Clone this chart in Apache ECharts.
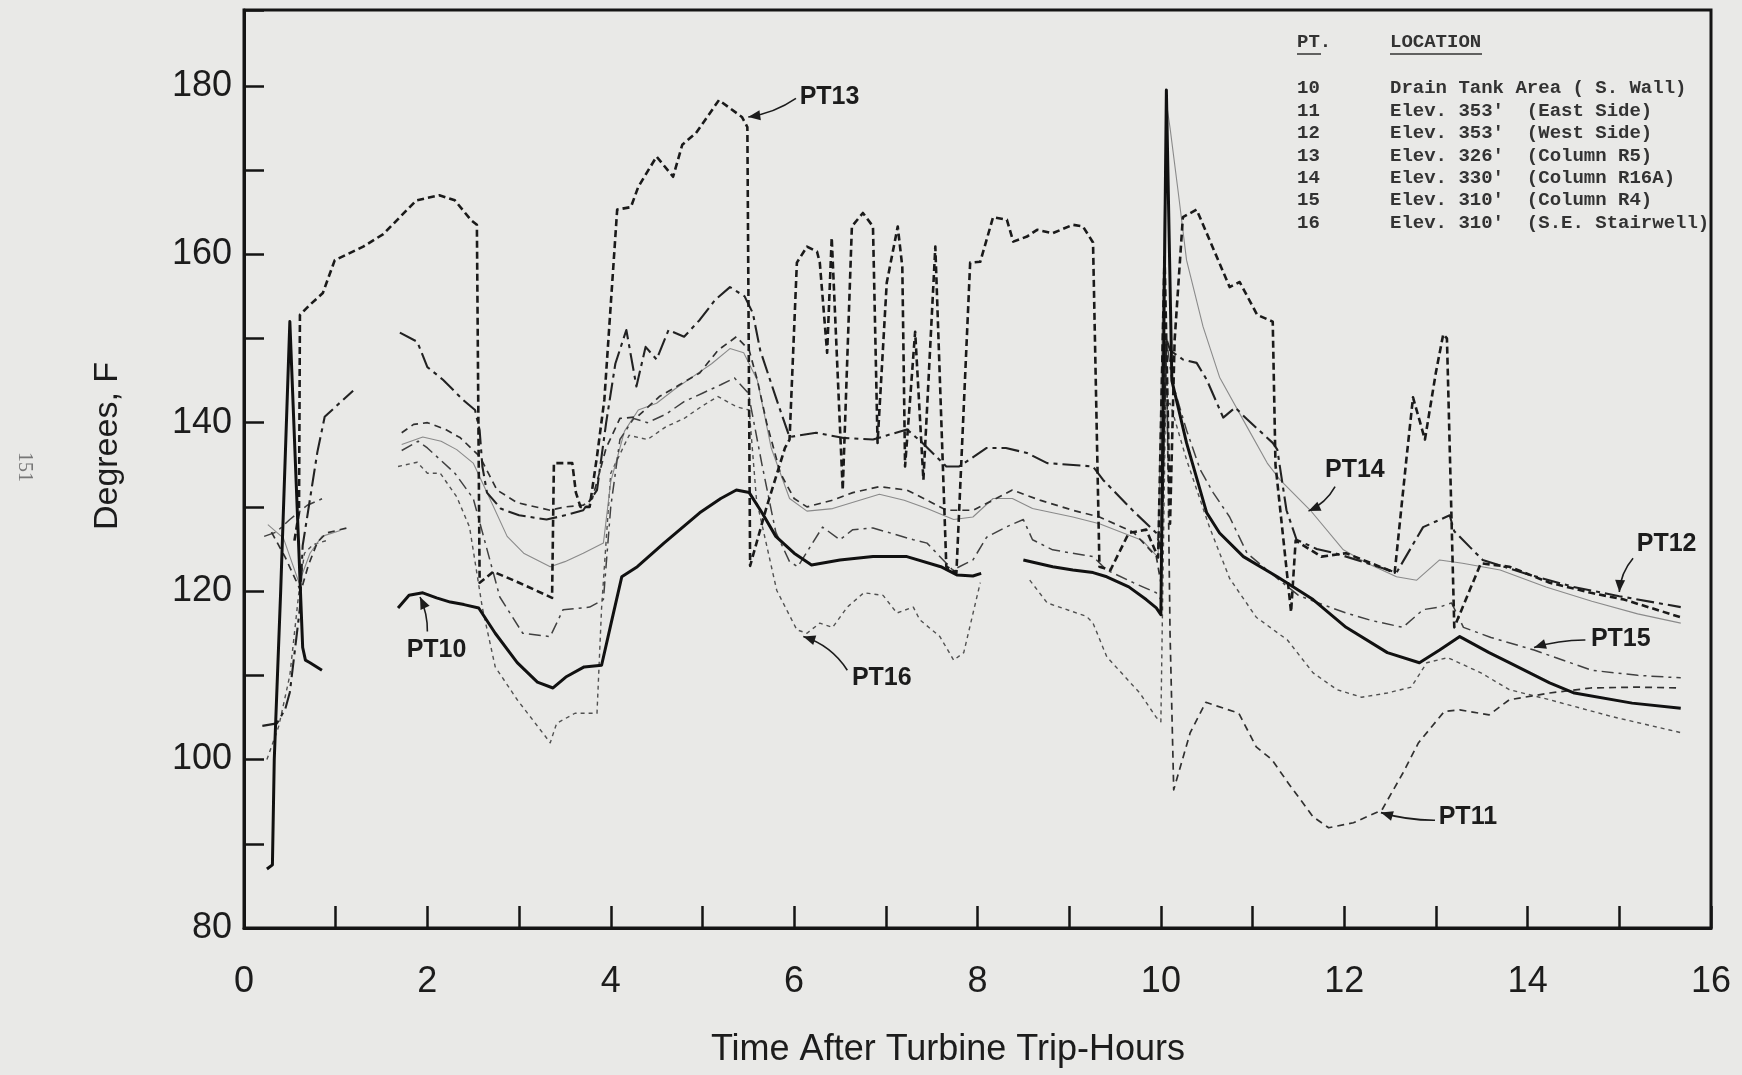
<!DOCTYPE html>
<html>
<head>
<meta charset="utf-8">
<title>Temperatures after turbine trip</title>
<script src="https://cdn.jsdelivr.net/npm/echarts@6.0.0/dist/echarts.min.js"></script>
<style>
  html, body { margin: 0; padding: 0; background: #e9e9e7; }
  #chart { width: 1742px; height: 1075px; }
</style>
</head>
<body>
<div id="chart"></div>
<script>
// readings [hours, degF]; '-' breaks the trace
const pt10 = [
  [0.25,87],[0.31,87.5],[0.33,100],[0.4,120],[0.5,152],[0.64,113.3],[0.67,111.8],[0.72,111.5],[0.85,110.6],
  [1.2,'-'],
  [1.68,118],[1.8,119.5],[1.95,119.8],[2.1,119.2],[2.25,118.7],[2.4,118.4],[2.56,118],[2.74,115],[2.98,111.5],[3.2,109.2],[3.37,108.5],[3.51,109.8],[3.71,111],[3.9,111.2],[4.0,116],[4.12,121.7],[4.29,122.9],[4.58,125.7],[4.97,129.3],[5.2,131],[5.37,132],[5.51,131.7],[5.65,129.3],[5.8,126.5],[6.0,124.5],[6.19,123.1],[6.5,123.7],[6.86,124.1],[7.23,124.1],[7.6,122.9],[7.78,121.9],[7.95,121.8],[8.04,122.1],
  [8.25,'-'],
  [8.5,123.7],[8.82,122.9],[9.04,122.5],[9.26,122.2],[9.41,121.7],[9.65,120.5],[9.84,119],[9.95,118],[10.0,117.2],[10.06,179.5],[10.12,145],[10.28,137.6],[10.5,129.3],[10.64,126.9],[10.9,124.1],[11.27,121.7],[11.66,119],[12.02,115.7],[12.47,112.7],[12.82,111.5],[13.04,113],[13.26,114.6],[13.58,112.7],[13.8,111.5],[14.24,109.1],[14.51,107.9],[15.14,106.7],[15.67,106.1]
];
const pt11 = [
  [0.3,127],[0.45,124],[0.62,120],[0.7,123],[0.8,125.8],[0.9,126.9],[1.16,127.6],
  [1.4,'-'],
  [1.72,138.8],[1.85,139.8],[2.0,140],[2.2,139.2],[2.36,138.2],[2.57,136],[2.76,132],[2.98,130.5],[3.34,129.6],[3.5,130],[3.7,130.2],[3.8,131],[3.95,137],[4.1,140.5],[4.29,140.7],[4.53,143.1],[4.75,144.5],[4.97,145.9],[5.17,148.6],[5.37,150.2],[5.51,148.6],[5.6,145],[5.7,140],[5.85,134],[6.0,131],[6.14,130],[6.42,130.8],[6.64,131.7],[6.93,132.4],[7.23,132],[7.45,130.8],[7.66,129.6],[7.95,129.6],[8.17,130.8],[8.38,132],[8.68,130.8],[9.04,129.6],[9.33,128.8],[9.7,127],[9.95,124.1],[10.0,121],[10.06,150],[10.1,115],[10.14,96.4],[10.32,103.2],[10.49,106.8],[10.85,105.5],[11.04,101.5],[11.21,100],[11.39,97.2],[11.66,93.2],[11.83,91.9],[12.1,92.5],[12.41,94],[12.64,98.4],[12.81,102],[13.09,105.7],[13.26,105.9],[13.58,105.3],[13.8,107.1],[14.24,107.9],[14.69,108.5],[15.2,108.6],[15.67,108.5]
];
const pt12 = [
  [0.26,127.9],[0.43,126.3],[0.6,121],[0.72,124.5],[0.85,126.5],[1.05,127.2],
  [1.4,'-'],
  [1.72,137.4],[1.95,138.3],[2.15,137.8],[2.32,136.8],[2.5,135.2],[2.65,131.7],[2.87,126.5],[3.05,124.5],[3.34,122.9],[3.5,123.5],[3.7,124.5],[3.92,125.7],[4.0,133],[4.15,139],[4.3,141.5],[4.5,142.3],[4.7,144],[4.9,145.5],[5.1,147],[5.3,148.8],[5.45,148.3],[5.6,145],[5.75,137],[5.95,131],[6.14,129.5],[6.42,129.8],[6.93,131.5],[7.2,130.8],[7.45,129.8],[7.74,128.5],[7.95,128.8],[8.17,131],[8.38,131],[8.6,129.8],[9.04,128.8],[9.33,128],[9.8,126],[9.97,124],[10.06,178],[10.1,175],[10.19,167.3],[10.28,159.3],[10.46,151.4],[10.64,145.4],[10.94,139.5],[11.16,135.2],[11.3,133.2],[11.63,129.6],[11.99,124.9],[12.25,123.3],[12.57,121.7],[12.79,121.3],[13.04,123.7],[13.29,123.3],[13.7,122.5],[14.2,120.5],[14.7,118.8],[15.2,117.3],[15.67,116.2]
];
const pt13 = [
  [0.55,126],[0.6,129.3],[0.61,152.8],[0.72,154],[0.86,155.4],[0.99,159.3],[1.3,160.9],[1.52,162.4],[1.88,166.4],[2.13,167],[2.3,166.4],[2.48,164],[2.54,163.5],[2.57,121],[2.72,122.3],[3.0,121],[3.3,119.5],[3.36,119.2],[3.38,135.2],[3.58,135.2],[3.62,131.7],[3.67,130],[3.77,130],[3.85,136],[3.93,142.7],[4.07,165.3],[4.22,165.6],[4.3,168],[4.5,171.6],[4.68,169.2],[4.78,173],[4.93,174.4],[5.18,178.3],[5.43,176.3],[5.49,175.1],[5.52,123],[5.7,130],[5.9,137],[5.95,138],[6.03,159],[6.14,160.9],[6.25,160.3],[6.28,159],[6.36,148.3],[6.41,162],[6.53,132],[6.63,163.3],[6.75,164.9],[6.86,163.3],[6.91,137.6],[7.01,156.6],[7.13,163.3],[7.18,158.5],[7.21,134.8],[7.32,150.8],[7.41,133.2],[7.54,160.9],[7.66,122.9],[7.77,122.2],[7.92,159],[8.03,159.1],[8.17,164.4],[8.32,164.1],[8.39,161.5],[8.54,162.1],[8.65,162.9],[8.82,162.5],[9.04,163.5],[9.15,163.3],[9.26,161.4],[9.33,122.9],[9.45,122.5],[9.65,126.9],[9.84,127.3],[9.97,124],[10.04,160],[10.1,128],[10.15,149.8],[10.24,164.4],[10.39,165.3],[10.75,156.1],[10.86,156.7],[11.05,152.8],[11.22,152],[11.25,135],[11.42,117.5],[11.47,126],[11.75,124.1],[12.02,124.5],[12.55,122.2],[12.68,135.9],[12.75,143],[12.88,138],[13.0,146],[13.08,150.5],[13.12,150],[13.2,115.7],[13.49,123.3],[13.8,122.9],[14.24,121],[14.69,119.8],[15.05,119],[15.67,116.9]
];
const pt14 = [
  [0.2,104],[0.36,104.3],[0.45,106],[0.5,108],[0.61,118],[0.64,125.4],[0.8,136.5],[0.88,140.7],[1.19,143.8],
  [1.4,'-'],
  [1.7,150.7],[1.89,149.6],[2.0,146.6],[2.17,145.1],[2.39,142.7],[2.52,141.5],[2.57,139.1],[2.6,134.8],[2.65,131.7],[2.8,129.8],[3.0,129],[3.3,128.5],[3.5,129],[3.7,129.6],[3.85,132],[3.95,140],[4.05,147],[4.17,151],[4.28,144.3],[4.38,149],[4.5,147.5],[4.63,151],[4.8,150.2],[4.97,152.2],[5.14,154.6],[5.3,156.1],[5.46,155],[5.55,153],[5.63,148.6],[5.81,142.7],[5.95,138.3],[6.24,138.8],[6.53,138.2],[6.86,138],[7.23,139.2],[7.4,137.6],[7.66,134.8],[7.8,134.8],[8.1,137],[8.31,137],[8.54,136.4],[8.76,135.2],[9.26,134.8],[9.37,133.2],[9.7,129.5],[9.95,126.9],[10.0,125],[10.06,150],[10.1,148.6],[10.24,147.5],[10.39,147.1],[10.5,145.1],[10.68,140.6],[10.81,141.8],[10.94,140.4],[11.22,137.6],[11.27,136.8],[11.37,129.6],[11.48,126.1],[11.7,125],[11.9,124.5],[12.2,123.5],[12.57,122.2],[12.86,127.6],[13.15,129],[13.2,127.1],[13.51,123.7],[14.0,122],[14.5,120.5],[15.0,119.4],[15.67,118.1]
];
const pt15 = [
  [0.22,126.5],[0.35,127],[0.5,128.5],[0.69,130.2],[0.9,131.2],
  [1.4,'-'],
  [1.72,136.7],[1.9,137.8],[2.0,137],[2.3,134],[2.5,131],[2.6,127],[2.79,119.3],[3.04,115],[3.34,114.6],[3.48,117.8],[3.77,118.1],[3.92,119],[4.0,130],[4.1,138],[4.25,140.5],[4.4,140],[4.6,141],[4.8,142.5],[5.0,143.5],[5.2,144.5],[5.35,145.3],[5.5,143.5],[5.65,135],[5.8,127],[5.95,123.5],[6.04,122.9],[6.31,127.6],[6.5,126.1],[6.64,127.3],[6.86,127.5],[7.3,126.1],[7.45,125.7],[7.73,122.5],[7.95,123.7],[8.1,126.4],[8.31,127.6],[8.5,128.5],[8.6,126.1],[8.82,124.9],[9.04,124.5],[9.26,124.1],[9.41,122.5],[9.7,121],[9.95,119.8],[10.0,119],[10.06,150],[10.12,145],[10.28,139.1],[10.43,134.4],[10.57,131.7],[10.75,128.8],[10.94,124.5],[11.27,121.5],[11.5,119.5],[11.74,118.5],[12.02,117.4],[12.3,116.5],[12.64,115.7],[12.86,117.8],[13.04,118.1],[13.17,118.6],[13.3,115.7],[13.6,114.5],[14.07,113],[14.7,110.6],[15.2,110],[15.67,109.7]
];
const pt16 = [
  [0.25,100],[0.38,104],[0.5,110],[0.6,120],[0.66,124.5],[0.75,125.5],[0.9,126],
  [1.3,'-'],
  [1.68,134.8],[1.89,135.3],[2.0,134],[2.14,134],[2.32,131.2],[2.46,127.6],[2.6,118],[2.74,111],[2.98,107.1],[3.34,102],[3.41,104.3],[3.61,105.5],[3.85,105.5],[3.9,118],[4.0,134],[4.2,138.5],[4.4,138],[4.6,139.5],[4.8,140.5],[5.0,142],[5.17,143.1],[5.37,141.9],[5.51,141.5],[5.59,130.8],[5.81,120.1],[6.03,115.4],[6.14,115],[6.28,116.2],[6.42,115.7],[6.58,118.1],[6.76,119.8],[6.97,119.5],[7.12,117.4],[7.3,118.1],[7.37,116.6],[7.59,114.6],[7.74,111.8],[7.85,112.7],[8.03,121],
  [8.3,'-'],
  [8.57,121.3],[8.76,118.6],[9.19,117],[9.26,116.2],[9.41,112.2],[9.77,107.9],[9.95,105],[10.0,104.5],[10.05,142],[10.1,142.3],[10.28,135.6],[10.53,127.6],[10.75,121.5],[11.04,116.9],[11.38,114.2],[11.66,110.3],[11.92,108.3],[12.19,107.4],[12.47,107.9],[12.73,108.6],[12.9,111.5],[13.13,112.1],[13.49,110.3],[13.8,108.3],[14.24,107.1],[14.92,105.1],[15.67,103.2]
];

const ptNumbers = ['10', '11', '12', '13', '14', '15', '16'];
const locations = [
  'Drain Tank Area ( S. Wall)',
  "Elev. 353'  (East Side)",
  "Elev. 353'  (West Side)",
  "Elev. 326'  (Column R5)",
  "Elev. 330'  (Column R16A)",
  "Elev. 310'  (Column R4)",
  "Elev. 310'  (S.E. Stairwell)"
];

// callout labels: text anchor, arrow start, arrow tip (data coords)
const notes = [
  { text: 'PT13', at: [6.06, 178.6], from: [6.02, 178.5], tip: [5.5, 176.3], bend: -6, align: 'left' },
  { text: 'PT10', at: [2.1, 113.0], from: [2.0, 115.2], tip: [1.92, 119.3], bend: 4, align: 'center' },
  { text: 'PT16', at: [6.63, 109.7], from: [6.58, 110.6], tip: [6.1, 114.6], bend: 10, align: 'left' },
  { text: 'PT14', at: [11.79, 134.4], from: [11.9, 132.4], tip: [11.61, 129.5], bend: -6, align: 'left' },
  { text: 'PT12', at: [15.19, 125.6], from: [15.15, 123.9], tip: [15.0, 119.9], bend: 6, align: 'left' },
  { text: 'PT15', at: [14.69, 114.3], from: [14.63, 114.2], tip: [14.07, 113.3], bend: 4, align: 'left' },
  { text: 'PT11', at: [13.03, 93.2], from: [12.99, 92.8], tip: [12.4, 93.7], bend: -4, align: 'left' }
];

const ink = '#1c1c1c';
const sans = '"Liberation Sans", Arial, sans-serif';

function trace(name, data, style) {
  return {
    name: name, type: 'line', data: data, symbol: 'none',
    connectNulls: false, animation: false, z: style.z || 2,
    lineStyle: { color: style.color, width: style.width, type: style.type, cap: 'butt', join: 'round' }
  };
}

const chart = echarts.init(document.getElementById('chart'));
chart.setOption({
  backgroundColor: '#e9e9e7',
  animation: false,
  grid: { left: 244, right: 31, top: 10, bottom: 147, show: true, borderColor: '#151515', borderWidth: 3 },
  xAxis: {
    type: 'value', min: 0, max: 16, interval: 1,
    axisLine: { lineStyle: { color: '#151515', width: 3 } },
    axisTick: { inside: true, length: 22, lineStyle: { color: '#151515', width: 2.5 } },
    axisLabel: {
      margin: 36, color: ink, fontSize: 36, fontFamily: sans,
      formatter: v => (v % 2 === 0 ? String(v) : '')
    },
    splitLine: { show: false }
  },
  yAxis: {
    type: 'value', min: 80, max: 189, interval: 10,
    axisLine: { show: true, lineStyle: { color: '#151515', width: 3 } },
    axisTick: { show: true, inside: true, length: 20, lineStyle: { color: '#151515', width: 2.5 } },
    axisLabel: {
      margin: 12, color: ink, fontSize: 36, fontFamily: sans,
      formatter: v => (v % 20 === 0 && v <= 180 ? String(v) : '')
    },
    splitLine: { show: false }
  },
  series: [
    trace('PT16', pt16, { color: '#505050', width: 1.4, type: [4, 4] }),
    trace('PT12', pt12, { color: '#8a8a8a', width: 1.1, type: 'solid' }),
    trace('PT15', pt15, { color: '#404040', width: 1.5, type: [12, 5, 3, 5] }),
    trace('PT11', pt11, { color: '#303030', width: 1.7, type: [7, 5] }),
    trace('PT14', pt14, { color: '#222222', width: 2.1, type: [18, 5, 4, 5] }),
    trace('PT13', pt13, { color: '#1a1a1a', width: 2.6, type: [7, 4], z: 3 }),
    trace('PT10', pt10, { color: '#111111', width: 3, type: 'solid', z: 4 })
  ]
});

function px(p) { return chart.convertToPixel({ gridIndex: 0 }, p); }

const graphics = [];
const mono = 'bold 19px "Liberation Mono", "DejaVu Sans Mono", monospace';

// location table
graphics.push({ type: 'text', x: 1297, y: 42, style: { text: 'PT.', font: mono, fill: '#333', textVerticalAlign: 'middle' } });
graphics.push({ type: 'text', x: 1390, y: 42, style: { text: 'LOCATION', font: mono, fill: '#333', textVerticalAlign: 'middle' } });
graphics.push({ type: 'line', shape: { x1: 1297, y1: 54, x2: 1321, y2: 54 }, style: { stroke: '#333', lineWidth: 1.5 } });
graphics.push({ type: 'line', shape: { x1: 1390, y1: 54, x2: 1482, y2: 54 }, style: { stroke: '#333', lineWidth: 1.5 } });
const rowY = [88, 111, 133, 156, 178, 200, 223];
ptNumbers.forEach((n, i) => {
  graphics.push({ type: 'text', x: 1297, y: rowY[i], style: { text: n, font: mono, fill: '#333', textVerticalAlign: 'middle' } });
  graphics.push({ type: 'text', x: 1390, y: rowY[i], style: { text: locations[i], font: mono, fill: '#333', textVerticalAlign: 'middle' } });
});

// axis titles and page number
graphics.push({ type: 'text', x: 108, y: 446, rotation: Math.PI / 2,
  style: { text: 'Degrees, F', font: '34px ' + sans, fill: ink, textAlign: 'center', textVerticalAlign: 'middle' } });
graphics.push({ type: 'text', x: 948, y: 1050,
  style: { text: 'Time After Turbine Trip-Hours', font: '36px ' + sans, fill: ink, textAlign: 'center', textVerticalAlign: 'middle' } });
graphics.push({ type: 'text', x: 24, y: 467, rotation: -Math.PI / 2,
  style: { text: '151', font: '20px "Liberation Serif", serif', fill: '#777', textAlign: 'center', textVerticalAlign: 'middle' } });

// callouts with curved arrows
notes.forEach(n => {
  const a = px(n.at), f = px(n.from), t = px(n.tip);
  graphics.push({ type: 'text', x: a[0], y: a[1], z: 10,
    style: { text: n.text, font: 'bold 25px ' + sans, fill: ink, textAlign: n.align, textVerticalAlign: 'middle' } });
  const dx = t[0] - f[0], dy = t[1] - f[1];
  const len = Math.hypot(dx, dy) || 1;
  const cx = (f[0] + t[0]) / 2 - dy / len * n.bend;
  const cy = (f[1] + t[1]) / 2 + dx / len * n.bend;
  graphics.push({ type: 'bezierCurve', z: 10,
    shape: { x1: f[0], y1: f[1], x2: t[0], y2: t[1], cpx1: cx, cpy1: cy },
    style: { stroke: ink, lineWidth: 1.6, fill: null } });
  const ux = t[0] - cx, uy = t[1] - cy, ul = Math.hypot(ux, uy) || 1;
  const ex = ux / ul, ey = uy / ul, hl = 12, hw = 5;
  graphics.push({ type: 'polygon', z: 10,
    shape: { points: [
      [t[0], t[1]],
      [t[0] - ex * hl - ey * hw, t[1] - ey * hl + ex * hw],
      [t[0] - ex * hl + ey * hw, t[1] - ey * hl - ex * hw]
    ] },
    style: { fill: ink } });
});

chart.setOption({ graphic: graphics });
</script>
</body>
</html>
